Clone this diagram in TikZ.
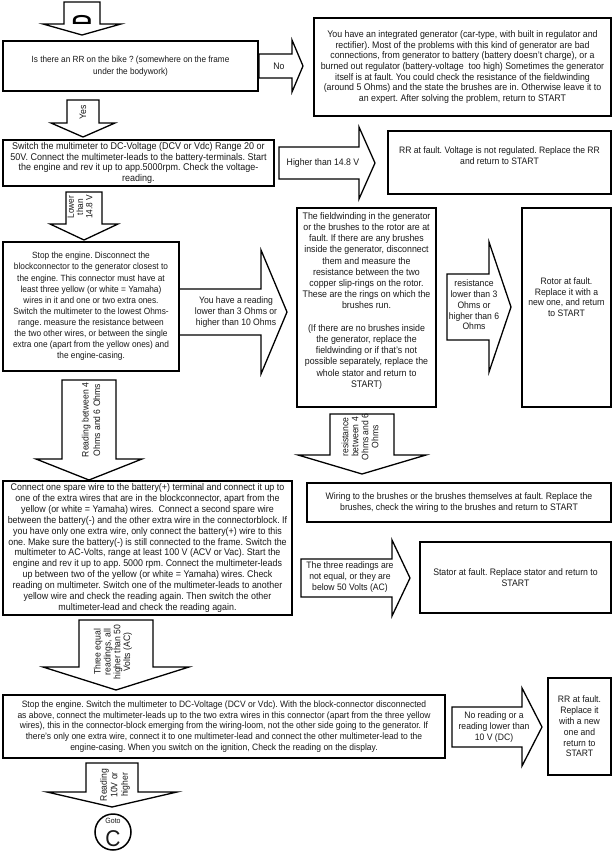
\documentclass[tikz,border=0pt]{standalone}
\usepackage{fontspec}
\setmainfont{Liberation Sans}[FakeStretch=0.92]
\newcommand{\setfs}[2]{\fontsize{\fpeval{round(#1*1.087,2)}}{#2}\selectfont}
\newcommand{\DnArr}[6]{% cx, top, shaft half, wing y, wing half, tip y
  \draw[barrow] ({#1-#3},#2) -- ({#1+#3},#2) -- ({#1+#3},#4) -- ({#1+#5},#4) -- (#1,#6) -- ({#1-#5},#4) -- ({#1-#3},#4) -- cycle;}
\newcommand{\RtArr}[6]{% left x, cy, shaft half, head x, head half, tip x
  \draw[barrow] (#1,{#2-#3}) -- (#4,{#2-#3}) -- (#4,{#2-#5}) -- (#6,#2) -- (#4,{#2+#5}) -- (#4,{#2+#3}) -- (#1,{#2+#3}) -- cycle;}
\begin{document}
\frenchspacing
\begin{tikzpicture}[x=1pt,y=-1pt,
  box/.style={draw=black, line width=1.7pt, inner sep=0pt, align=center, text=black!90},
  barrow/.style={draw=black, line width=1.3pt, fill=white, line join=miter},
  lbl/.style={inner sep=0pt, align=center, text=black!90},
]
\useasboundingbox (0,0) rectangle (615,856);
\fill[white] (0,0) rectangle (615,856);

% ---------- arrows ----------
\DnArr{82}{2}{18}{24}{39}{35}
\node[lbl, rotate=90, font=\bfseries, text=black] (dlab) at (82,20.5) {\scalebox{0.62}[1]{\fontsize{26}{26}\selectfont D}};

\RtArr{259}{66}{12}{292}{26}{303}
\node[lbl, font=\setfs{8.7}{10.8}] (tno) at (279,66) {No};

\DnArr{83}{100}{16}{123}{32}{137}
\node[lbl, rotate=90, font=\setfs{8.7}{10.8}] (tyes) at (83,112) {Yes};

\RtArr{279}{163}{16}{359}{36}{375}
\node[lbl, font=\setfs{8.7}{10.8}] (thigh) at (323,163) {Higher than 14.8 V};

\DnArr{84}{192}{18}{224}{34}{240}
\node[lbl, rotate=90, font=\setfs{8.3}{9.2}] (tlow) at (80,207) {Lower\\than\\14.8 V};

\RtArr{179}{312}{23}{261}{62}{287}
\node[lbl, font=\setfs{8.6}{10.8}] (tread) at (236,312) {You have a reading\\lower than 3 Ohms or\\higher than 10 Ohms};

\RtArr{447}{307}{33}{489}{65}{511}
\node[lbl, font=\setfs{8.6}{10.8}] (tres) at (474,305) {resistance\\lower than 3\\Ohms or\\higher than 6\\Ohms};

\DnArr{89}{380}{27}{459}{53}{480}
\node[lbl, rotate=90, font=\setfs{8.6}{11.5}] (tbetw) at (91,420) {Reading between 4\\Ohms and 6 Ohms};

\DnArr{362}{414}{32}{455}{64}{474}
\node[lbl, rotate=90, font=\setfs{8.6}{10}] (tresb) at (360,437) {resistance\\between 4\\Ohms and 6\\Ohms};

\RtArr{301}{578}{19}{392}{38}{410}
\node[lbl, font=\setfs{8.6}{10.8}] (tthree) at (350,577) {The three readings are\\not equal, or they are\\below 50 Volts (AC)};

\DnArr{116}{620}{37}{667}{73}{690}
\node[lbl, rotate=90, font=\setfs{8.6}{9.8}] (tequal) at (113,652) {Three equal\\readings, all\\higher than 50\\Volts (AC)};

\RtArr{452}{727}{20}{522}{39}{542}
\node[lbl, font=\setfs{8.6}{10.8}] (tnoread) at (494,727) {No reading or a\\reading lower than\\10 V (DC)};

\DnArr{112}{763}{26}{792}{65}{807}
\node[lbl, rotate=90, font=\setfs{8.6}{10.5}] (t10v) at (115,785) {Reading\\10V or\\higher};

\node[draw=black, line width=1.5pt, circle, minimum size=36pt, inner sep=0pt] (gotoc) at (113,832) {};
\node[lbl, font=\setfs{7}{8}] (tgoto) at (113,821) {Goto};
\node[lbl, font=\setfs{21}{22}] (tc) at (113,838.5) {C};

% ---------- boxes ----------
\node[box, minimum width=255pt, minimum height=50pt, font=\setfs{8.2}{12}] (b1) at (130.5,66)
 {Is there an RR on the bike ? (somewhere on the frame\\under the bodywork)};

\node[box, minimum width=297pt, minimum height=98pt, font=\setfs{8.8}{10.6}] (btr) at (462.5,67)
 {You have an integrated generator (car-type, with built in regulator and\\
  rectifier). Most of the problems with this kind of generator are bad\\
  connections, from generator to battery (battery doesn't charge), or a\\
  burned out regulator (battery-voltage\ \ too high) Sometimes the generator\\
  itself is at fault. You could check the resistance of the fieldwinding\\
  (around 5 Ohms) and the state the brushes are in. Otherwise leave it to\\
  an expert. After solving the problem, return to START};

\node[box, minimum width=271pt, minimum height=46pt, font=\setfs{9}{10.4}] (b2) at (138.5,163)
 {Switch the multimeter to DC-Voltage (DCV or Vdc) Range 20 or\\
  50V. Connect the multimeter-leads to the battery-terminals. Start\\
  the engine and rev it up to app.5000rpm. Check the voltage-\\
  reading.};

\node[box, minimum width=223pt, minimum height=63pt, font=\setfs{8.6}{10.7}] (brr) at (499.5,162.5)
 {RR at fault. Voltage is not regulated. Replace the RR\\and return to START\\[3pt]};

\node[box, minimum width=176pt, minimum height=129pt, font=\setfs{8.3}{11.1}] (b3) at (91,306.5)
 {Stop the engine. Disconnect the\\
  blockconnector to the generator closest to\\
  the engine. This connector must have at\\
  least three yellow (or white = Yamaha)\\
  wires in it and one or two extra ones.\\
  Switch the multimeter to the lowest Ohms-\\
  range. measure the resistance between\\
  the two other wires, or between the single\\
  extra one (apart from the yellow ones) and\\
  the engine-casing.};

\node[box, minimum width=139pt, minimum height=199pt, font=\setfs{8.8}{11.2}] (bf) at (366.5,307.5)
 {The fieldwinding in the generator\\
  or the brushes to the rotor are at\\
  fault. If there are any brushes\\
  inside the generator, disconnect\\
  them and measure the\\
  resistance between the two\\
  copper slip-rings on the rotor.\\
  These are the rings on which the\\
  brushes run.\\[11.2pt]
  (If there are no brushes inside\\
  the generator, replace the\\
  fieldwinding or if that's not\\
  possible separately, replace the\\
  whole stator and return to\\
  START)\\[4pt]};

\node[box, minimum width=89pt, minimum height=199pt, font=\setfs{8.6}{10.8}] (brot) at (566.5,307.5)
 {Rotor at fault.\\Replace it with a\\new one, and return\\to START\\[10pt]};

\node[box, minimum width=289pt, minimum height=134pt, font=\setfs{8.9}{10.9}] (b4) at (147.5,548)
 {Connect one spare wire to the battery(+) terminal and connect it up to\\
  one of the extra wires that are in the blockconnector, apart from the\\
  yellow (or white = Yamaha) wires.\ \ Connect a second spare wire\\
  between the battery(-) and the other extra wire in the connectorblock. If\\
  you have only one extra wire, only connect the battery(+) wire to this\\
  one. Make sure the battery(-) is still connected to the frame. Switch the\\
  multimeter to AC-Volts, range at least 100 V (ACV or Vac). Start the\\
  engine and rev it up to app. 5000 rpm. Connect the multimeter-leads\\
  up between two of the yellow (or white = Yamaha) wires. Check\\
  reading on multimeter. Switch one of the multimeter-leads to another\\
  yellow wire and check the reading again. Then switch the other\\
  multimeter-lead and check the reading again.};

\node[box, minimum width=304pt, minimum height=39pt, font=\setfs{8.7}{10.8}] (bw) at (459,502.5)
 {Wiring to the brushes or the brushes themselves at fault. Replace the\\
  brushes, check the wiring to the brushes and return to START};

\node[box, minimum width=191pt, minimum height=71pt, font=\setfs{8.7}{10.8}] (bs) at (515.5,577.5)
 {Stator at fault. Replace stator and return to\\START};

\node[box, minimum width=442pt, minimum height=63pt, font=\setfs{8.5}{10.8}] (b5) at (224,726.5)
 {Stop the engine. Switch the multimeter to DC-Voltage (DCV or Vdc). With the block-connector disconnected\\
  as above, connect the multimeter-leads up to the two extra wires in this connector (apart from the three yellow\\
  wires), this in the connector-block emerging from the wiring-loom, not the other side going to the generator. If\\
  there's only one extra wire, connect it to one multimeter-lead and connect the other multimeter-lead to the\\
  engine-casing. When you switch on the ignition, Check the reading on the display.};

\node[box, minimum width=63pt, minimum height=97pt, font=\setfs{8.6}{10.8}] (brr2) at (579.5,726.5)
 {RR at fault.\\Replace it\\with a new\\one and\\return to\\START};
\end{tikzpicture}
\end{document}
